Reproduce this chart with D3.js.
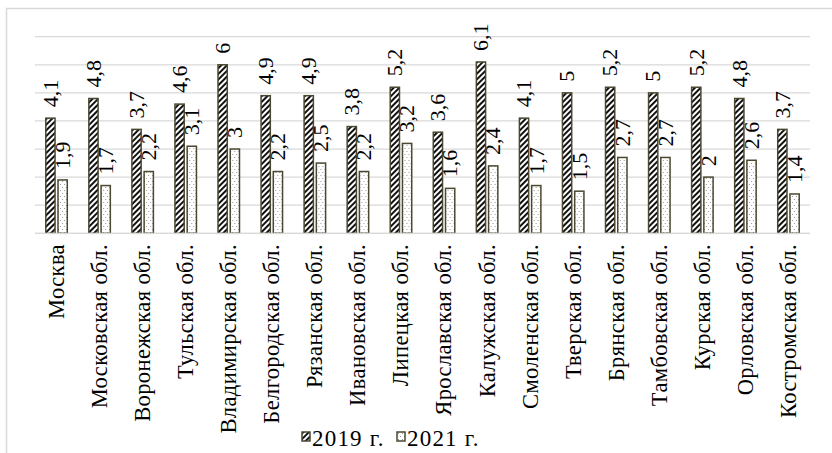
<!DOCTYPE html>
<html><head><meta charset="utf-8">
<script src="https://cdn.jsdelivr.net/npm/d3@7"></script>
<style>
html,body{margin:0;padding:0;background:#fff;}
svg{display:block;}
</style></head>
<body>
<svg id="chart" width="832" height="453"></svg>
<script>
const categories = ["Москва","Московская обл.","Воронежская обл.","Тульская обл.","Владимирская обл.","Белгородская обл.","Рязанская обл.","Ивановская обл.","Липецкая обл.","Ярославская обл.","Калужская обл.","Смоленская обл.","Тверская обл.","Брянская обл.","Тамбовская обл.","Курская обл.","Орловская обл.","Костромская обл."];
const values2019 = [4.1,4.8,3.7,4.6,6,4.9,4.9,3.8,5.2,3.6,6.1,4.1,5,5.2,5,5.2,4.8,3.7];
const values2021 = [1.9,1.7,2.2,3.1,3,2.2,2.5,2.2,3.2,1.6,2.4,1.7,1.5,2.7,2.7,2,2.6,1.4];
const seriesNames = ["2019 г.","2021 г."];
const yTicks = [0,1,2,3,4,5,6,7];

(function(){
const FONT = "Liberation Serif, Tinos, Noto Serif, FreeSerif, DejaVu Serif, Times New Roman, Times, serif";
const svg = d3.select("#chart").attr("font-family",FONT);
const defs = svg.append("defs");
const stroke = "#4b4730";

const p1 = defs.append("pattern").attr("id","hatch").attr("patternUnits","userSpaceOnUse")
  .attr("width",4).attr("height",4).attr("patternTransform","rotate(45)");
p1.append("rect").attr("width",4).attr("height",4).attr("fill","#fff");
p1.append("rect").attr("x",0).attr("width",2).attr("height",4).attr("fill","#111");
const p2 = defs.append("pattern").attr("id","dots").attr("patternUnits","userSpaceOnUse")
  .attr("width",4).attr("height",6);
p2.append("rect").attr("width",4).attr("height",6).attr("fill","#fff");
p2.append("rect").attr("x",1).attr("y",1).attr("width",1).attr("height",1).attr("fill","#9a9a9a");
p2.append("rect").attr("x",3).attr("y",4).attr("width",1).attr("height",1).attr("fill","#9a9a9a");
const fills = ["url(#hatch)","url(#dots)"];

svg.append("rect").attr("x",6.5).attr("y",8.5).attr("width",900).attr("height",600)
  .attr("fill","none").attr("stroke","#d9d9d9").attr("stroke-width",1.5);

const pLeft = 35, pRight = 810, pTop = 36.7, pBottom = 233.3;
const x0 = d3.scaleBand().domain(categories).range([pLeft,pRight]).paddingInner(0.466).paddingOuter(0.233);
const x1 = d3.scaleBand().domain(seriesNames).range([0,x0.bandwidth()]).paddingInner(0.12);
const y = d3.scaleLinear().domain([0,7]).range([pBottom,pTop]);

svg.append("g").selectAll("line").data(yTicks).join("line")
  .attr("x1",pLeft).attr("x2",pRight)
  .attr("y1",d=>y(d)).attr("y2",d=>y(d))
  .attr("stroke","#d9d9d9").attr("stroke-width",1.3);

const data = categories.map((c,i)=>({cat:c, vals:[values2019[i],values2021[i]]}));
const fmt = v => String(v).replace(".",",");

const groups = svg.append("g").selectAll("g").data(data).join("g")
  .attr("transform",d=>`translate(${x0(d.cat)},0)`);

groups.selectAll("rect").data(d=>d.vals.map((v,j)=>({v,s:seriesNames[j],j}))).join("rect")
  .attr("x",d=>x1(d.s)+0.75).attr("width",x1.bandwidth()-1.5)
  .attr("y",d=>y(d.v)).attr("height",d=>y(0)-y(d.v))
  .attr("fill",d=>fills[d.j]).attr("stroke",stroke).attr("stroke-width",1.5);

groups.selectAll("text").data(d=>d.vals.map((v,j)=>({v,s:seriesNames[j],j}))).join("text")
  .attr("transform",d=>`translate(${x1(d.s)+x1.bandwidth()/2},${y(d.v)-11}) rotate(-90)`)
  .attr("dy","0.33em").attr("text-anchor","start")
  .attr("font-size",22).attr("fill","#000")
  .text(d=>fmt(d.v));

svg.append("line").attr("x1",pLeft).attr("x2",pRight).attr("y1",pBottom).attr("y2",pBottom)
  .attr("stroke","#d9d9d9").attr("stroke-width",1.3);

svg.append("g").selectAll("text").data(categories).join("text")
  .attr("transform",d=>`translate(${x0(d)+x0.bandwidth()/2},244) rotate(-90)`)
  .attr("dy","0.33em").attr("text-anchor","end")
  .attr("font-size",22.5).attr("letter-spacing",0.4).attr("fill","#000")
  .text(d=>d);

const legendItems = [{name:seriesNames[0],fill:fills[0],x:302},{name:seriesNames[1],fill:fills[1],x:397}];
const lg = svg.append("g").selectAll("g").data(legendItems).join("g")
  .attr("transform",d=>`translate(${d.x},432)`);
lg.append("rect").attr("width",8).attr("height",9).attr("fill",d=>d.fill)
  .attr("stroke",stroke).attr("stroke-width",1.5);
lg.append("text").attr("x",10).attr("y",14).attr("font-size",23).attr("letter-spacing",1.2).attr("fill","#000")
  .text(d=>d.name);
})();
</script>
</body></html>
